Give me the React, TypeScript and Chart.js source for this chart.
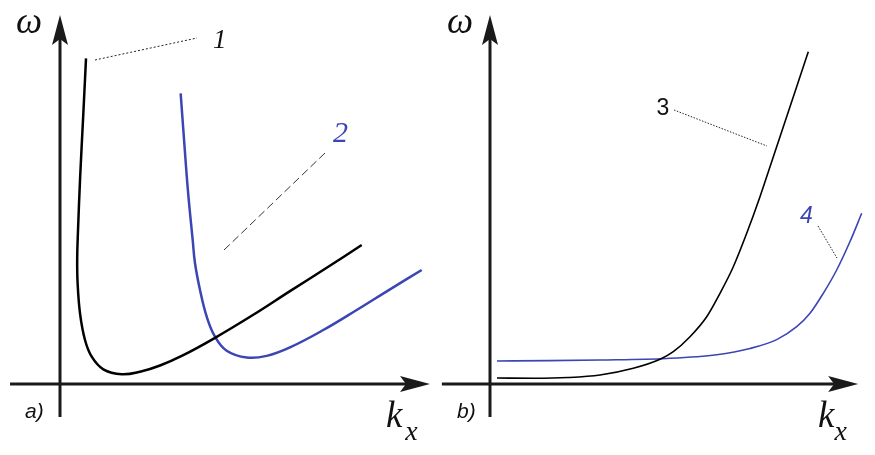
import React, { useEffect, useRef } from "react";
import { Chart, registerables } from "chart.js";

Chart.register(...registerables);

const BLUE = "#3b45b4";

// ---------- panel a) ----------
const curve1K = [0.703, 0.625, 0.545, 0.485, 0.465, 0.475, 0.541, 0.676, 0.857, 1.17, 1.668, 2.162, 2.703, 3.332, 4.143, 5.224, 6.216, 7.208, 8.154];
const curve1W = [8.8, 7.2, 5.6, 4.1, 3.4, 2.75, 1.911, 1.189, 0.738, 0.397, 0.262, 0.33, 0.5, 0.78, 1.22, 1.87, 2.51, 3.14, 3.757];

const curve2K = [3.261, 3.36, 3.46, 3.586, 3.649, 3.784, 3.965, 4.189, 4.505, 5.046, 5.586, 6.216, 7.116, 8.019, 8.919, 9.775];
const curve2W = [7.856, 6.5, 5.2, 3.892, 3.262, 2.541, 1.819, 1.278, 0.9, 0.715, 0.76, 0.99, 1.459, 2.0, 2.559, 3.081];

const leader1K = [0.946, 3.703];
const leader1W = [8.757, 9.351];
const leader2K = [7.162, 4.405];
const leader2W = [6.243, 3.595];

// ---------- panel b) ----------
const curve3K = [0.189, 1.2, 2.108, 2.973, 3.873, 4.595, 4.954, 5.405, 5.857, 6.216, 6.576, 6.938, 7.297, 7.568, 7.838, 8.108, 8.378, 8.603];
const curve3W = [0.162, 0.155, 0.175, 0.243, 0.424, 0.668, 0.873, 1.278, 1.819, 2.451, 3.17, 4.073, 5.062, 5.873, 6.684, 7.495, 8.305, 8.981];

const curve4K = [0.189, 1.6, 2.973, 4.776, 6.127, 7.027, 7.749, 8.289, 8.649, 9.008, 9.37, 9.73, 10.046];
const curve4W = [0.622, 0.632, 0.649, 0.69, 0.79, 0.96, 1.2, 1.549, 1.911, 2.451, 3.081, 3.85, 4.614];

const leader3K = [4.973, 7.486];
const leader3W = [7.405, 6.432];
const leader4K = [8.865, 9.378];
const leader4W = [4.27, 3.405];

type Label = { text: string; x: number; y: number; font: string; color: string };

const labelsA: Label[] = [
  { text: "ω", x: -1.19, y: 9.486, font: "italic 37px 'Liberation Serif'", color: "#111" },
  { text: "k", x: 8.811, y: -1.162, font: "italic 37px 'Liberation Serif'", color: "#111" },
  { text: "x", x: 9.33, y: -1.514, font: "italic 28px 'Liberation Serif'", color: "#111" },
  { text: "a)", x: -0.946, y: -0.919, font: "italic 21px 'Liberation Sans'", color: "#111" },
  { text: "1", x: 4.135, y: 9.081, font: "italic 27px 'Liberation Serif'", color: "#111" },
  { text: "2", x: 7.378, y: 6.541, font: "italic 30px 'Liberation Serif'", color: BLUE },
];

const labelsB: Label[] = [
  { text: "ω", x: -1.16, y: 9.486, font: "italic 37px 'Liberation Serif'", color: "#111" },
  { text: "k", x: 8.865, y: -1.162, font: "italic 37px 'Liberation Serif'", color: "#111" },
  { text: "x", x: 9.31, y: -1.514, font: "italic 28px 'Liberation Serif'", color: "#111" },
  { text: "b)", x: -0.892, y: -0.919, font: "italic 21px 'Liberation Sans'", color: "#111" },
  { text: "3", x: 4.5, y: 7.27, font: "23px 'Liberation Sans'", color: "#111" },
  { text: "4", x: 8.38, y: 4.351, font: "italic 23px 'Liberation Sans'", color: BLUE },
];

const PX = 37; // pixels per unit
const H = 455;
const ORIGIN_Y = 384;

type PanelSpec = {
  width: number;
  originX: number;
  axisXStart: number;
  axisYStart: number;
  tipX: number;
  tipY: number;
  labels: Label[];
  datasets: any[];
};

const toPts = (xs: number[], ys: number[]) => xs.map((x, i) => ({ x, y: ys[i] }));

function drawArrow(ctx: CanvasRenderingContext2D, x1: number, y1: number, x2: number, y2: number) {
  const dx = x2 - x1;
  const dy = y2 - y1;
  const len = Math.hypot(dx, dy);
  const ux = dx / len;
  const uy = dy / len;
  const headLen = 30;
  const half = 8;
  const notch = 24;
  ctx.save();
  ctx.strokeStyle = "#1a1a1a";
  ctx.fillStyle = "#1a1a1a";
  ctx.lineWidth = 3;
  ctx.beginPath();
  ctx.moveTo(x1, y1);
  ctx.lineTo(x2 - ux * notch, y2 - uy * notch);
  ctx.stroke();
  ctx.beginPath();
  ctx.moveTo(x2, y2);
  ctx.lineTo(x2 - ux * headLen - uy * half, y2 - uy * headLen + ux * half);
  ctx.lineTo(x2 - ux * notch, y2 - uy * notch);
  ctx.lineTo(x2 - ux * headLen + uy * half, y2 - uy * headLen - ux * half);
  ctx.closePath();
  ctx.fill();
  ctx.restore();
}

function Panel({ spec }: { spec: PanelSpec }) {
  const ref = useRef<HTMLCanvasElement | null>(null);
  useEffect(() => {
    if (!ref.current) return;
    const xMin = -spec.originX / PX;
    const xMax = (spec.width - spec.originX) / PX;
    const yMax = ORIGIN_Y / PX;
    const yMin = (ORIGIN_Y - H) / PX;
    const overlay = {
      id: "axesOverlay",
      beforeDatasetsDraw(chart: any) {
        const ctx = chart.ctx as CanvasRenderingContext2D;
        const sx = chart.scales.x;
        const sy = chart.scales.y;
        const ox = sx.getPixelForValue(0);
        const oy = sy.getPixelForValue(0);
        drawArrow(ctx, sx.getPixelForValue(spec.axisXStart), oy, sx.getPixelForValue(spec.tipX), oy);
        drawArrow(ctx, ox, sy.getPixelForValue(spec.axisYStart), ox, sy.getPixelForValue(spec.tipY));
      },
      afterDatasetsDraw(chart: any) {
        const ctx = chart.ctx as CanvasRenderingContext2D;
        const sx = chart.scales.x;
        const sy = chart.scales.y;
        ctx.save();
        ctx.textAlign = "left";
        ctx.textBaseline = "alphabetic";
        for (const l of spec.labels) {
          ctx.font = l.font;
          ctx.fillStyle = l.color;
          ctx.fillText(l.text, sx.getPixelForValue(l.x), sy.getPixelForValue(l.y));
        }
        ctx.restore();
      },
    };
    const chart = new Chart(ref.current, {
      type: "scatter",
      data: { datasets: spec.datasets },
      options: {
        animation: false,
        responsive: false,
        events: [],
        layout: { padding: 0 },
        plugins: { legend: { display: false }, tooltip: { enabled: false } },
        scales: {
          x: { type: "linear", display: false, min: xMin, max: xMax },
          y: { type: "linear", display: false, min: yMin, max: yMax },
        },
      },
      plugins: [overlay],
    });
    return () => chart.destroy();
  }, [spec]);
  return <canvas ref={ref} width={spec.width} height={H} style={{ display: "block" }} />;
}

type Smooth = "bezier" | "monotone" | "straight";

const line = (xs: number[], ys: number[], color: string, width: number, smooth: Smooth, dash: number[] = []) => ({
  data: toPts(xs, ys),
  showLine: true,
  borderColor: color,
  borderWidth: width,
  borderDash: dash,
  pointRadius: 0,
  tension: smooth === "straight" ? 0 : 0.4,
  cubicInterpolationMode: smooth === "monotone" ? "monotone" : "default",
  fill: false,
});

const specA: PanelSpec = {
  width: 437,
  originX: 60,
  axisXStart: -1.35,
  axisYStart: -0.89,
  tipX: 10.0,
  tipY: 9.97,
  labels: labelsA,
  datasets: [
    line(curve1K, curve1W, "#000", 2.5, "bezier"),
    line(curve2K, curve2W, BLUE, 2.5, "bezier"),
    line(leader1K, leader1W, "#222", 1, "straight", [2, 2]),
    line(leader2K, leader2W, "#333", 1, "straight", [8, 4]),
  ],
};

const specB: PanelSpec = {
  width: 438,
  originX: 53,
  axisXStart: -1.3,
  axisYStart: -0.89,
  tipX: 9.95,
  tipY: 9.97,
  labels: labelsB,
  datasets: [
    line(curve3K, curve3W, "#000", 1.6, "monotone"),
    line(curve4K, curve4W, BLUE, 1.6, "monotone"),
    line(leader3K, leader3W, "#222", 1, "straight", [1.5, 1.5]),
    line(leader4K, leader4W, "#222", 1, "straight", [1.5, 1.5]),
  ],
};

export default function App() {
  return (
    <div style={{ position: "fixed", left: 0, top: 0, width: 875, height: 455, background: "#fff", display: "flex" }}>
      <Panel spec={specA} />
      <Panel spec={specB} />
    </div>
  );
}
